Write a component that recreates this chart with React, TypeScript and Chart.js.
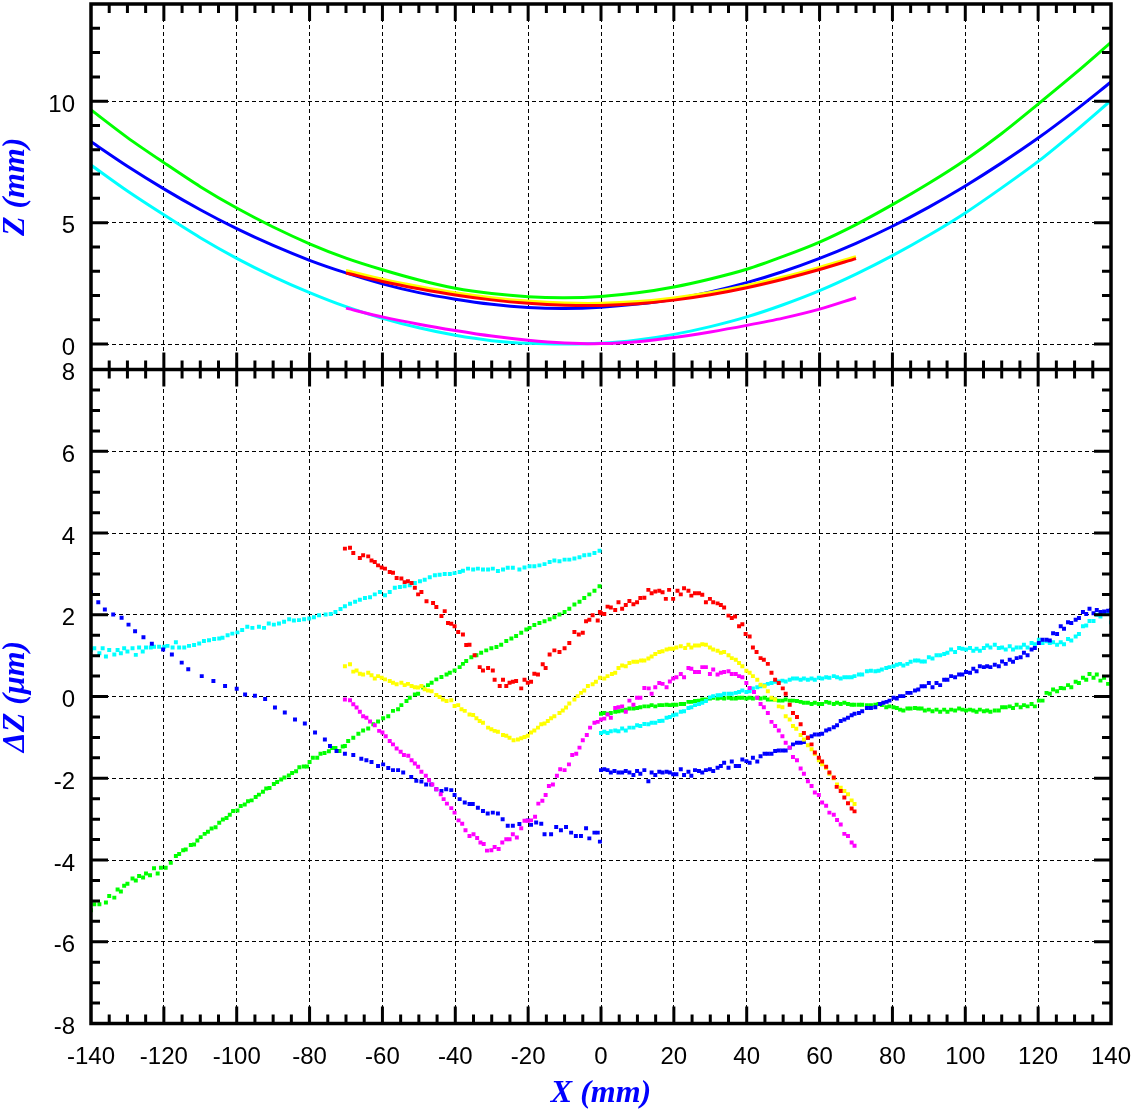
import React, { useEffect, useRef } from 'react';
import { Chart, registerables } from 'chart.js';

Chart.register(...registerables);

// ---------- Top panel: Z (mm) profiles ----------
const topX = [-140, -130, -120, -110, -100, -90, -80, -70, -60, -50, -40, -30, -20, -10, 0, 10, 20, 30, 40, 50, 60, 70, 80, 90, 100, 110, 120, 130, 140];
const greenTop = [9.64, 8.5, 7.47, 6.48, 5.6, 4.82, 4.13, 3.54, 3.06, 2.64, 2.3, 2.08, 1.95, 1.91, 1.96, 2.11, 2.35, 2.68, 3.08, 3.61, 4.2, 4.92, 5.74, 6.62, 7.58, 8.67, 9.88, 11.12, 12.42];
const blueTop = [8.33, 7.32, 6.39, 5.53, 4.75, 4.06, 3.45, 2.93, 2.48, 2.12, 1.85, 1.64, 1.51, 1.47, 1.52, 1.65, 1.85, 2.15, 2.53, 2.99, 3.53, 4.15, 4.85, 5.64, 6.51, 7.46, 8.48, 9.6, 10.79];
const cyanTop = [7.37, 6.3, 5.32, 4.38, 3.53, 2.78, 2.12, 1.54, 1.06, 0.67, 0.36, 0.14, 0.03, 0.0, 0.03, 0.17, 0.4, 0.72, 1.12, 1.62, 2.2, 2.88, 3.64, 4.48, 5.4, 6.43, 7.52, 8.74, 10.03];
const midX = [-70, -60, -50, -40, -30, -20, -10, 0, 10, 20, 30, 40, 50, 60, 70];
const redTop = [2.93, 2.58, 2.28, 2.02, 1.82, 1.68, 1.6, 1.59, 1.66, 1.81, 2.03, 2.32, 2.67, 3.07, 3.52];
const yellowTop = [3.03, 2.67, 2.37, 2.11, 1.91, 1.77, 1.69, 1.68, 1.75, 1.9, 2.12, 2.41, 2.76, 3.16, 3.6];
const magentaTop = [1.48, 1.12, 0.82, 0.56, 0.33, 0.16, 0.05, 0.02, 0.1, 0.27, 0.5, 0.77, 1.07, 1.44, 1.91];

// ---------- Bottom panel: ΔZ (µm) residuals, [X, ΔZ] ----------
const blueLeft = [[-140, 2.55], [-138, 2.31], [-136.2, 2.13], [-133.9, 2.01], [-131.6, 1.93], [-129.7, 1.76], [-127.9, 1.6], [-125.6, 1.45], [-123.3, 1.29], [-120.2, 1.15], [-117.8, 1.03], [-115.1, 0.83], [-113.3, 0.67], [-109.6, 0.5], [-106.4, 0.38], [-103.2, 0.26], [-100, 0.19], [-97.7, 0.05], [-95, 0.02], [-92.2, -0.06], [-89.5, -0.27], [-86.8, -0.39], [-84, -0.56], [-81.3, -0.66], [-78.5, -0.88], [-75.8, -1.05], [-74.4, -1.21], [-72.6, -1.33], [-70.3, -1.4], [-68, -1.43], [-65.8, -1.52], [-64.4, -1.56], [-63, -1.6], [-61.2, -1.7], [-59.8, -1.66], [-58.4, -1.75], [-57.1, -1.8], [-55.7, -1.8], [-54.3, -1.86], [-52.1, -1.97], [-50.7, -2.06], [-49.3, -2.08], [-48, -2.15], [-46.6, -2.15], [-45.2, -2.27], [-43.8, -2.31], [-42.5, -2.27], [-41.1, -2.29], [-40.2, -2.41], [-38.8, -2.51], [-37.4, -2.59], [-36.1, -2.63], [-35.2, -2.63], [-33.8, -2.72], [-32.4, -2.8], [-31.1, -2.86], [-29.7, -2.84], [-28.3, -2.86], [-27, -3.0], [-25.6, -3.16], [-24.2, -3.16], [-22.4, -3.12], [-20.1, -3.03], [-19.2, -3.14], [-17.8, -3.08], [-16.4, -3.11], [-15.5, -3.37], [-13.7, -3.37], [-12.3, -3.19], [-11, -3.27], [-9.6, -3.19], [-8.2, -3.33], [-6.9, -3.41], [-5.5, -3.41], [-4.1, -3.22], [-3.2, -3.47], [-1.8, -3.33], [-0.9, -3.33], [-0.3, -3.55]];

const cyanLeft = [[-140, 1.14], [-139.1, 1.18], [-137.7, 1.06], [-136.8, 1.18], [-135.9, 0.98], [-135, 1.14], [-133.6, 1.03], [-132.7, 1.14], [-131.8, 1.06], [-130.9, 1.18], [-130, 1.1], [-128.6, 1.18], [-127.7, 1.02], [-126.8, 1.2], [-125.8, 1.1], [-124.9, 1.2], [-123.6, 1.2], [-122.7, 1.22], [-121.3, 1.22], [-119.9, 1.22], [-119, 1.24], [-117.6, 1.2], [-116.7, 1.33], [-115.8, 1.2], [-114.4, 1.2], [-113.1, 1.24], [-111.7, 1.26], [-110.3, 1.3], [-109, 1.36], [-107.6, 1.38], [-106.2, 1.41], [-104.8, 1.42], [-103.9, 1.44], [-102.5, 1.5], [-101.2, 1.54], [-99.8, 1.57], [-98.5, 1.63], [-97.1, 1.71], [-95.7, 1.68], [-93.9, 1.71], [-92.5, 1.68], [-91.2, 1.79], [-89.8, 1.76], [-88.4, 1.79], [-87, 1.83], [-85.6, 1.89], [-84.3, 1.86], [-82.9, 1.87], [-81.5, 1.89], [-80.1, 1.91], [-78.8, 1.94], [-77.4, 1.99], [-75.6, 2.01], [-74.2, 2.02], [-72.9, 2.07], [-71.5, 2.14], [-70.3, 2.21], [-68.9, 2.27], [-67.5, 2.32], [-66.2, 2.37], [-64.8, 2.41], [-63.4, 2.43], [-62.1, 2.5], [-60.7, 2.56], [-59.3, 2.48], [-58, 2.56], [-56.6, 2.66], [-55.2, 2.68], [-53.9, 2.7], [-52.5, 2.72], [-51.1, 2.78], [-49.7, 2.82], [-48.4, 2.86], [-47, 2.92], [-45.6, 2.97], [-44.3, 2.98], [-42.9, 3.0], [-41.5, 3.0], [-40.2, 3.02], [-38.8, 3.05], [-37.9, 3.08], [-36.5, 3.13], [-35.1, 3.11], [-33.8, 3.13], [-32.4, 3.11], [-31, 3.11], [-29.7, 3.13], [-28.3, 3.07], [-26.9, 3.11], [-25.6, 3.15], [-24.2, 3.15], [-22.4, 3.11], [-21, 3.16], [-19.6, 3.19], [-18.3, 3.19], [-16.9, 3.21], [-15.5, 3.24], [-14.1, 3.29], [-12.8, 3.33], [-11.4, 3.31], [-10, 3.35], [-8.7, 3.35], [-7.3, 3.38], [-5.9, 3.41], [-4.6, 3.46], [-3.2, 3.47], [-1.8, 3.51], [-0.4, 3.57]];

const greenLeft = [[-140, -5.23], [-139.1, -5.08], [-137.7, -5.08], [-135.9, -5.04], [-135, -4.88], [-133.6, -4.92], [-132.7, -4.72], [-131.8, -4.77], [-130.9, -4.63], [-130, -4.58], [-128.6, -4.45], [-127.7, -4.5], [-126.8, -4.39], [-125.7, -4.43], [-124.9, -4.33], [-123.8, -4.37], [-122.7, -4.2], [-121.7, -4.33], [-120.8, -4.19], [-119.5, -4.19], [-118.1, -4.07], [-116.7, -3.9], [-115.8, -3.85], [-114.7, -3.76], [-114, -3.74], [-112.6, -3.63], [-111.7, -3.62], [-110.8, -3.52], [-109.9, -3.44], [-108.8, -3.36], [-107.9, -3.31], [-106.9, -3.23], [-105.8, -3.2], [-104.8, -3.09], [-103.8, -3.01], [-102.8, -2.97], [-101.9, -2.89], [-101, -2.8], [-99.8, -2.79], [-98.9, -2.68], [-97.8, -2.64], [-96.9, -2.56], [-95.9, -2.54], [-94.8, -2.46], [-93.9, -2.4], [-92.8, -2.33], [-91.9, -2.25], [-91, -2.24], [-89.8, -2.14], [-88.9, -2.09], [-87.8, -2.03], [-86.9, -1.98], [-85.7, -1.93], [-84.8, -1.87], [-83.7, -1.83], [-82.8, -1.73], [-81.6, -1.71], [-80.7, -1.71], [-80, -1.6], [-79.1, -1.5], [-77.9, -1.5], [-77, -1.4], [-75.9, -1.38], [-74.7, -1.34], [-73.8, -1.26], [-72.9, -1.26], [-71.8, -1.33], [-70.9, -1.22], [-70.3, -1.21], [-69.4, -1.09], [-68, -1.01], [-66.6, -0.91], [-65.3, -0.83], [-63.9, -0.78], [-62.5, -0.68], [-61.2, -0.61], [-59.8, -0.53], [-58.4, -0.48], [-57.1, -0.35], [-55.7, -0.31], [-54.8, -0.21], [-53.4, -0.11], [-52.5, -0.03], [-51.1, 0.05], [-50.2, 0.07], [-48.8, 0.22], [-47.5, 0.28], [-46.5, 0.34], [-45.2, 0.42], [-43.8, 0.48], [-42.4, 0.54], [-41.5, 0.58], [-40.2, 0.64], [-38.8, 0.72], [-37.9, 0.8], [-37, 0.87], [-35.6, 0.96], [-34.2, 1.01], [-32.9, 1.07], [-31.5, 1.13], [-30.1, 1.18], [-28.7, 1.21], [-27.4, 1.27], [-26, 1.36], [-24.6, 1.42], [-23.3, 1.48], [-21.9, 1.56], [-20.5, 1.64], [-19.6, 1.68], [-18.3, 1.75], [-16.9, 1.8], [-15.5, 1.84], [-14.1, 1.89], [-12.8, 1.94], [-11.4, 2.01], [-10, 2.07], [-8.7, 2.15], [-7.3, 2.25], [-5.9, 2.32], [-4.6, 2.41], [-3.2, 2.5], [-1.8, 2.59], [-0.4, 2.7]];

const redMid = [[-70.3, 3.62], [-68.9, 3.64], [-68, 3.51], [-66.2, 3.39], [-65.3, 3.46], [-63.9, 3.43], [-63, 3.33], [-62.1, 3.29], [-61.2, 3.21], [-60.2, 3.16], [-59.3, 3.13], [-58, 3.05], [-57.1, 3.03], [-56.1, 2.9], [-54.8, 2.89], [-53.9, 2.8], [-53, 2.82], [-52, 2.78], [-51.1, 2.66], [-50.2, 2.5], [-49.3, 2.56], [-47.9, 2.33], [-46.1, 2.29], [-45.2, 2.19], [-43.8, 1.97], [-42.9, 2.09], [-42, 1.8], [-41.1, 1.78], [-40.2, 1.72], [-39.2, 1.58], [-37.9, 1.52], [-37, 1.26], [-36.1, 1.27], [-34.7, 1.01], [-33.3, 0.72], [-32.4, 0.64], [-31, 0.7], [-29.7, 0.64], [-29.2, 0.41], [-27.8, 0.26], [-26.9, 0.41], [-26, 0.26], [-25.1, 0.34], [-24.2, 0.36], [-23.3, 0.38], [-21.9, 0.2], [-21, 0.41], [-20.1, 0.34], [-19.2, 0.36], [-18.3, 0.56], [-17.3, 0.54], [-16, 0.79], [-15.2, 0.7], [-14.1, 1.03], [-12.8, 1.13], [-11.4, 1.09], [-10, 1.18], [-8.7, 1.31], [-7.3, 1.58], [-6.1, 1.52], [-5, 1.56], [-4.1, 1.84], [-3.2, 1.88], [-2.3, 1.99], [-0.9, 1.86], [-0.3, 2.07], [0, 2.04], [0.9, 2.02], [1.8, 2.2], [2.7, 2.18], [3.9, 2.12], [4.8, 2.31], [5.8, 2.15], [6.8, 2.24], [7.8, 2.34], [8.9, 2.26], [9.9, 2.31], [10.8, 2.41], [11.9, 2.42], [13, 2.61], [13.9, 2.53], [14.9, 2.57], [16, 2.59], [16.9, 2.55], [17.8, 2.39], [18.7, 2.61], [19.8, 2.39], [21, 2.59], [21.9, 2.5], [22.8, 2.65], [24, 2.59], [24.8, 2.47], [25.8, 2.53], [26.9, 2.53], [27.8, 2.49], [28.8, 2.31], [29.9, 2.39], [30.8, 2.31], [32, 2.28], [32.9, 2.24], [33.8, 2.18], [35, 1.98], [35.9, 1.92], [36.8, 1.96], [37.9, 1.72], [38.8, 1.77], [39.7, 1.53], [40.8, 1.47], [41.7, 1.2], [42.7, 1.09], [43.8, 0.94], [44.7, 0.9], [45.8, 0.8], [46.8, 0.58], [47.8, 0.41], [48.8, 0.33], [49.9, 0.2], [50.7, 0.07], [51.8, -0.2], [52.7, -0.4], [53.8, -0.5], [54.8, -0.68], [55.7, -0.89], [56.8, -1.01], [57.8, -1.17], [58.7, -1.37], [59.8, -1.5], [60.7, -1.59], [61.8, -1.72], [62.7, -1.86], [63.9, -1.98], [64.7, -2.21], [65.8, -2.31], [66.8, -2.47], [67.8, -2.61], [68.8, -2.74], [69.6, -2.81]];

const yellowMid = [[-70.3, 0.74], [-68.9, 0.79], [-68, 0.61], [-67.1, 0.64], [-66.2, 0.56], [-65.3, 0.54], [-63.9, 0.58], [-63, 0.52], [-62.1, 0.44], [-61.2, 0.5], [-60.2, 0.46], [-59.3, 0.42], [-58, 0.38], [-57.1, 0.34], [-56.1, 0.3], [-54.8, 0.34], [-53.9, 0.28], [-53, 0.31], [-52, 0.26], [-51.1, 0.23], [-50.2, 0.22], [-49.3, 0.26], [-48.4, 0.18], [-47.5, 0.15], [-46.5, 0.13], [-45.2, 0.04], [-44.3, -0.01], [-43.4, -0.07], [-42.4, -0.11], [-41.1, -0.09], [-40.2, -0.23], [-39.2, -0.21], [-38.3, -0.31], [-37.4, -0.35], [-36.1, -0.44], [-35.1, -0.45], [-34.2, -0.53], [-33.3, -0.6], [-32.4, -0.64], [-31, -0.76], [-30.1, -0.8], [-29.2, -0.84], [-28.3, -0.86], [-26.9, -0.94], [-26, -0.96], [-25.1, -1.01], [-24, -1.07], [-22.8, -1.05], [-21.9, -1.02], [-21, -0.99], [-20.1, -0.96], [-19.2, -0.88], [-18.3, -0.83], [-17.3, -0.76], [-16.4, -0.68], [-15.5, -0.66], [-14.6, -0.6], [-13.7, -0.53], [-12.8, -0.48], [-11.4, -0.4], [-10.5, -0.34], [-9.6, -0.27], [-8.7, -0.17], [-7.3, -0.07], [-6.4, 0.01], [-5.5, 0.09], [-4.6, 0.15], [-3.6, 0.26], [-2.3, 0.3], [-1.4, 0.36], [-0.3, 0.46], [0.9, 0.44], [1.8, 0.5], [3, 0.55], [3.9, 0.58], [4.8, 0.7], [5.8, 0.76], [6.8, 0.74], [7.8, 0.82], [8.9, 0.85], [9.9, 0.85], [11, 0.88], [11.9, 0.88], [13, 0.93], [13.9, 0.98], [14.9, 1.04], [16, 1.09], [16.9, 1.11], [18, 1.15], [18.9, 1.17], [19.8, 1.17], [20.7, 1.2], [21.9, 1.23], [23.1, 1.19], [24, 1.27], [24.8, 1.2], [25.8, 1.25], [26.9, 1.25], [27.8, 1.28], [28.8, 1.27], [29.9, 1.2], [30.8, 1.15], [32, 1.12], [32.9, 1.07], [33.8, 1.09], [35, 1.01], [35.9, 0.94], [37, 0.9], [37.9, 0.82], [38.8, 0.74], [39.9, 0.63], [40.8, 0.58], [41.7, 0.5], [42.9, 0.41], [43.8, 0.29], [44.9, 0.25], [45.8, 0.13], [46.8, -0.03], [47.8, -0.07], [48.8, -0.24], [49.8, -0.26], [50.7, -0.48], [51.8, -0.56], [52.7, -0.72], [53.6, -0.79], [54.8, -0.94], [55.7, -1.05], [56.8, -1.19], [57.8, -1.29], [58.7, -1.4], [59.8, -1.56], [60.7, -1.66], [61.8, -1.74], [62.7, -1.89], [63.9, -2.0], [64.8, -2.15], [65.8, -2.23], [66.8, -2.31], [67.8, -2.39], [68.8, -2.54], [69.6, -2.63]];

const magentaMid = [[-70.3, -0.07], [-68.9, -0.09], [-68, -0.19], [-67.1, -0.27], [-66.2, -0.37], [-65.3, -0.48], [-64.4, -0.52], [-63.4, -0.61], [-62.1, -0.7], [-60.9, -0.84], [-60, -0.88], [-59.1, -0.97], [-58, -1.09], [-57.1, -1.17], [-56.1, -1.27], [-55, -1.35], [-54.1, -1.43], [-52.9, -1.45], [-52, -1.56], [-51.1, -1.64], [-50.2, -1.72], [-49.3, -1.84], [-48.1, -1.94], [-47.2, -2.05], [-46.3, -2.15], [-45.2, -2.27], [-44, -2.39], [-43.2, -2.51], [-42.3, -2.62], [-41.1, -2.73], [-40.2, -2.84], [-39.1, -3.03], [-38.1, -3.11], [-37.2, -3.27], [-36.1, -3.41], [-35, -3.37], [-34, -3.46], [-33.1, -3.57], [-32.2, -3.61], [-31.3, -3.77], [-30.1, -3.76], [-29.2, -3.68], [-28.1, -3.73], [-27.1, -3.57], [-26, -3.49], [-25.1, -3.49], [-24.2, -3.37], [-23.1, -3.45], [-21.9, -3.22], [-21, -3.04], [-20.1, -3.04], [-19.2, -3.03], [-18.1, -2.94], [-17.2, -2.62], [-16.1, -2.55], [-15.2, -2.41], [-14.3, -2.19], [-13.2, -2.15], [-12.1, -1.94], [-11.2, -1.78], [-10, -1.8], [-8.8, -1.66], [-7.9, -1.43], [-6.8, -1.4], [-5.9, -1.25], [-5, -1.07], [-3.9, -0.94], [-3, -0.76], [-1.8, -0.64], [-0.9, -0.62], [0, -0.56], [0.9, -0.54], [1.8, -0.44], [2.7, -0.52], [3.9, -0.28], [4.8, -0.26], [5.8, -0.24], [6.8, -0.37], [7.8, -0.1], [8.9, -0.2], [9.9, -0.03], [10.8, -0.03], [11.9, 0.21], [13.1, 0.2], [13.9, 0.07], [14.9, 0.23], [16, 0.33], [16.9, 0.31], [18, 0.23], [18.9, 0.37], [19.8, 0.44], [20.7, 0.47], [21.9, 0.55], [22.8, 0.47], [24, 0.7], [24.8, 0.68], [25.8, 0.6], [26.9, 0.6], [27.8, 0.72], [28.8, 0.72], [29.9, 0.55], [30.8, 0.66], [32, 0.54], [32.9, 0.58], [33.8, 0.6], [35, 0.62], [35.9, 0.55], [37, 0.55], [37.9, 0.5], [38.8, 0.47], [39.9, 0.33], [40.8, 0.21], [42, 0.11], [42.9, -0.03], [43.8, -0.18], [44.7, -0.26], [45.8, -0.4], [46.8, -0.62], [47.8, -0.72], [48.8, -0.83], [49.8, -0.97], [50.7, -1.13], [51.8, -1.25], [52.7, -1.48], [53.8, -1.56], [54.8, -1.76], [55.7, -1.89], [56.8, -2.07], [57.8, -2.19], [58.7, -2.35], [59.8, -2.41], [60.7, -2.59], [61.8, -2.67], [62.7, -2.84], [63.9, -2.89], [64.8, -3.02], [65.8, -3.13], [66.8, -3.36], [67.8, -3.41], [68.8, -3.57], [69.6, -3.65]];

const blueRight = [[0, -1.8], [0.9, -1.78], [1.8, -1.8], [2.7, -1.86], [3.7, -1.82], [4.8, -1.86], [5.8, -1.86], [6.8, -1.82], [7.8, -1.86], [8.9, -1.92], [9.9, -1.82], [10.8, -1.89], [11.9, -1.8], [13, -2.07], [13.9, -1.86], [14.9, -1.92], [16, -1.84], [16.9, -1.86], [18, -1.84], [18.9, -1.86], [19.8, -1.9], [20.7, -1.9], [21.9, -1.78], [22.8, -1.92], [24, -1.84], [24.8, -1.94], [25.8, -1.8], [26.9, -1.82], [27.8, -1.86], [28.8, -1.8], [29.9, -1.78], [30.8, -1.82], [32, -1.74], [32.9, -1.7], [33.8, -1.62], [35, -1.74], [35.9, -1.59], [37, -1.7], [37.9, -1.7], [38.8, -1.54], [39.9, -1.58], [40.8, -1.62], [41.7, -1.5], [42.9, -1.59], [43.8, -1.46], [44.9, -1.4], [45.8, -1.4], [46.8, -1.4], [47.8, -1.33], [48.8, -1.32], [49.8, -1.32], [50.7, -1.32], [51.8, -1.25], [52.7, -1.17], [53.8, -1.13], [54.8, -1.13], [55.7, -1.11], [56.8, -1.01], [57.8, -0.97], [58.7, -0.93], [59.8, -0.93], [60.7, -0.91], [61.8, -0.83], [62.7, -0.8], [63.9, -0.75], [64.8, -0.7], [65.8, -0.6], [66.8, -0.56], [67.8, -0.52], [68.8, -0.46], [69.6, -0.42], [70.8, -0.4], [71.7, -0.36], [73, -0.28], [74.1, -0.28], [75.3, -0.26], [76.6, -0.18], [77.5, -0.15], [78.4, -0.13], [79.2, -0.1], [80.3, -0.03], [81.2, -0.05], [82.1, 0.01], [83, 0.01], [84.1, 0.09], [85, 0.09], [86.2, 0.15], [87.1, 0.17], [88, 0.25], [88.9, 0.25], [90, 0.33], [91, 0.23], [92.1, 0.33], [93.1, 0.28], [94.2, 0.41], [95.1, 0.41], [96.1, 0.5], [97.2, 0.47], [98.3, 0.54], [99.2, 0.54], [100.2, 0.6], [101.3, 0.58], [102.2, 0.68], [103.1, 0.62], [104, 0.74], [105.1, 0.72], [106, 0.74], [106.9, 0.72], [108.1, 0.78], [109.2, 0.74], [110.1, 0.86], [111.1, 0.8], [112.2, 0.9], [113.1, 0.85], [114.1, 0.94], [115.2, 0.96], [116.1, 1.07], [117.1, 1.01], [118.2, 1.15], [119.1, 1.19], [120.2, 1.31], [121.2, 1.39], [122.3, 1.39], [123.2, 1.37], [124.1, 1.55], [125.2, 1.53], [126.2, 1.72], [127.1, 1.66], [128.2, 1.82], [129.1, 1.8], [130.3, 1.88], [131.2, 1.92], [132.3, 2.07], [133.2, 2.02], [134.1, 2.15], [135.2, 2.04], [136.1, 2.12], [137.1, 2.07], [138.1, 2.08], [139.2, 2.1], [140, 2.12]];

const cyanRight = [[0, -0.89], [0.9, -0.86], [1.8, -0.89], [2.7, -0.85], [3.9, -0.83], [4.8, -0.85], [5.8, -0.78], [6.8, -0.83], [7.8, -0.76], [8.9, -0.76], [9.9, -0.7], [10.8, -0.72], [11.9, -0.67], [13, -0.68], [13.9, -0.64], [14.9, -0.64], [16, -0.6], [16.9, -0.59], [18, -0.52], [18.9, -0.5], [19.8, -0.46], [20.7, -0.44], [21.9, -0.37], [22.8, -0.36], [24, -0.28], [24.8, -0.26], [25.8, -0.21], [26.9, -0.18], [27.8, -0.15], [28.8, -0.11], [29.9, -0.02], [30.8, 0.01], [32, 0.03], [32.9, 0.03], [33.8, 0.07], [35, 0.07], [35.9, 0.07], [37, 0.09], [37.9, 0.11], [38.8, 0.15], [39.9, 0.11], [40.8, 0.13], [41.7, 0.2], [42.9, 0.23], [43.8, 0.25], [44.9, 0.28], [45.8, 0.31], [46.8, 0.33], [47.8, 0.36], [48.8, 0.37], [49.8, 0.39], [50.7, 0.37], [51.8, 0.41], [52.7, 0.44], [53.8, 0.44], [54.8, 0.41], [55.7, 0.44], [56.8, 0.41], [57.8, 0.44], [58.7, 0.41], [59.8, 0.46], [60.7, 0.44], [61.8, 0.47], [62.7, 0.46], [63.9, 0.5], [64.8, 0.47], [65.8, 0.44], [66.8, 0.47], [67.8, 0.47], [68.8, 0.47], [69.6, 0.5], [70.8, 0.54], [71.7, 0.54], [73, 0.62], [74.1, 0.63], [75.3, 0.62], [76.2, 0.63], [77.1, 0.66], [78.3, 0.7], [79.2, 0.72], [80.3, 0.74], [81.2, 0.78], [82.1, 0.8], [83, 0.76], [84.1, 0.8], [85, 0.85], [86.2, 0.88], [87.1, 0.88], [88, 0.86], [88.9, 0.86], [90, 0.96], [91, 0.93], [92.1, 1.01], [93.1, 1.01], [94.2, 1.04], [95.1, 1.07], [96.1, 1.15], [97.2, 1.09], [98.3, 1.19], [99.2, 1.17], [100.2, 1.15], [101.3, 1.19], [102.2, 1.12], [103.1, 1.17], [104, 1.12], [105.1, 1.19], [106, 1.25], [106.9, 1.2], [108.1, 1.27], [109.2, 1.19], [110.1, 1.2], [111.1, 1.15], [112.2, 1.23], [113.1, 1.15], [114.1, 1.2], [115.2, 1.2], [116.1, 1.27], [117.1, 1.2], [118.2, 1.31], [119.1, 1.28], [120.2, 1.39], [121.2, 1.31], [122.3, 1.35], [123.2, 1.31], [124.1, 1.33], [125.2, 1.27], [126.2, 1.33], [127.1, 1.28], [128.2, 1.41], [129.1, 1.37], [130.3, 1.47], [131.2, 1.53], [132.3, 1.72], [133.2, 1.74], [134.1, 1.85], [135.2, 1.85], [136.1, 2.0], [137.1, 1.96], [138.1, 2.04], [139.2, 2.04], [140, 1.82]];

const greenRight = [[0, -0.42], [0.9, -0.4], [1.8, -0.42], [2.7, -0.4], [3.9, -0.37], [4.8, -0.36], [5.8, -0.34], [6.8, -0.32], [7.8, -0.29], [8.9, -0.29], [9.9, -0.28], [10.8, -0.26], [11.9, -0.24], [13, -0.24], [13.9, -0.21], [14.9, -0.24], [16, -0.21], [16.9, -0.21], [18, -0.2], [18.9, -0.21], [19.8, -0.2], [20.7, -0.2], [21.9, -0.18], [22.8, -0.18], [24, -0.13], [24.8, -0.13], [25.8, -0.11], [26.9, -0.1], [27.8, -0.07], [28.8, -0.07], [29.9, -0.05], [30.8, -0.03], [32, -0.05], [32.9, -0.03], [33.8, -0.05], [35, -0.03], [35.9, -0.05], [37, -0.05], [37.9, -0.03], [38.8, -0.03], [39.9, -0.05], [40.8, -0.03], [41.7, -0.05], [42.9, -0.03], [43.8, -0.05], [44.9, -0.03], [45.8, -0.07], [46.8, -0.07], [47.8, -0.07], [48.8, -0.1], [49.8, -0.1], [50.7, -0.07], [51.8, -0.1], [52.7, -0.1], [53.8, -0.11], [54.8, -0.13], [55.7, -0.15], [56.8, -0.15], [57.8, -0.18], [58.7, -0.15], [59.8, -0.18], [60.7, -0.18], [61.8, -0.13], [62.7, -0.15], [63.9, -0.18], [64.8, -0.15], [65.8, -0.18], [66.8, -0.15], [67.8, -0.18], [68.8, -0.2], [69.6, -0.2], [70.8, -0.2], [71.7, -0.2], [73, -0.21], [74.1, -0.21], [75.3, -0.2], [76.2, -0.18], [77.1, -0.21], [78.3, -0.26], [79.2, -0.24], [80.3, -0.26], [81.2, -0.28], [82.1, -0.32], [83, -0.34], [84.1, -0.29], [85, -0.29], [86.2, -0.28], [87.1, -0.29], [88, -0.29], [88.9, -0.34], [90, -0.32], [91, -0.36], [92.1, -0.32], [93.1, -0.37], [94.2, -0.32], [95.1, -0.37], [96.1, -0.32], [97.2, -0.34], [98.3, -0.29], [99.2, -0.32], [100.2, -0.34], [101.3, -0.32], [102.2, -0.34], [103.1, -0.37], [104, -0.32], [105.1, -0.36], [106, -0.34], [106.9, -0.37], [108.1, -0.34], [109.2, -0.34], [110.1, -0.26], [111.1, -0.26], [112.2, -0.24], [113.1, -0.28], [114.1, -0.2], [115.2, -0.26], [116.1, -0.21], [117.1, -0.24], [118.2, -0.18], [119.1, -0.24], [120.2, -0.1], [121.2, -0.1], [122.3, 0.09], [123.2, 0.07], [124.1, 0.17], [125.2, 0.13], [126.2, 0.21], [127.1, 0.2], [128.2, 0.28], [129.1, 0.23], [130.3, 0.36], [131.2, 0.33], [132.3, 0.46], [133.2, 0.41], [134.1, 0.55], [135.2, 0.46], [136.1, 0.54], [137.1, 0.39], [138.1, 0.46], [139.2, 0.31], [140, 0.41]];

// ---------- Axis ticks ----------
const zTicks = [0, 5, 10];
const dzTicks = [-8, -6, -4, -2, 0, 2, 4, 6, 8];
const xTicks = [-140, -120, -100, -80, -60, -40, -20, 0, 20, 40, 60, 80, 100, 120, 140];

const BLUE = '#0000ff';
const GREEN = '#00ff00';
const CYAN = '#00ffff';
const RED = '#ff0000';
const YELLOW = '#ffff00';
const MAGENTA = '#ff00ff';

const toXY = (xs: number[], ys: number[]) => xs.map((x, i) => ({ x, y: ys[i] }));
const pairs = (arr: number[][]) => arr.map(([x, y]) => ({ x, y }));

const curve = (label: string, data: any[], color: string) => ({
  label,
  data,
  yAxisID: 'yTop',
  showLine: true,
  borderColor: color,
  backgroundColor: color,
  borderWidth: 3,
  pointRadius: 0,
  tension: 0.3,
});

const dots = (label: string, data: any[], color: string) => ({
  label,
  data,
  yAxisID: 'yBot',
  showLine: false,
  pointStyle: 'rect',
  pointRadius: 2.8,
  pointBorderWidth: 0,
  pointBackgroundColor: color,
  borderColor: color,
  backgroundColor: color,
});

const framePlugin = {
  id: 'frameTicks',
  afterDraw(chart: any) {
    const { ctx, chartArea } = chart;
    const sx = chart.scales.x;
    const yt = chart.scales.yTop;
    const yb = chart.scales.yBot;
    const L = chartArea.left;
    const R = chartArea.right;
    const T = yt.top;
    const B = yb.bottom;
    const M = yt.bottom;
    ctx.save();
    ctx.strokeStyle = '#000';
    ctx.lineWidth = 3;
    ctx.beginPath();
    for (let v = -135; v <= 135; v += 5) {
      const px = sx.getPixelForValue(v);
      const len = v % 20 === 0 ? 17 : 9;
      ctx.moveTo(px, B);
      ctx.lineTo(px, B - len);
      ctx.moveTo(px, T);
      ctx.lineTo(px, T + len);
      ctx.moveTo(px, M - len);
      ctx.lineTo(px, M + len);
    }
    for (let v = 0; v <= 13; v += 1) {
      const py = yt.getPixelForValue(v);
      const len = v % 5 === 0 ? 17 : 9;
      ctx.moveTo(L, py);
      ctx.lineTo(L + len, py);
      ctx.moveTo(R, py);
      ctx.lineTo(R - len, py);
    }
    for (let v = -7.5; v <= 7.5; v += 0.5) {
      const py = yb.getPixelForValue(v);
      const len = Math.abs(v % 2) < 1e-6 ? 17 : 9;
      ctx.moveTo(L, py);
      ctx.lineTo(L + len, py);
      ctx.moveTo(R, py);
      ctx.lineTo(R - len, py);
    }
    ctx.stroke();
    ctx.lineWidth = 3.5;
    ctx.strokeRect(L, T, R - L, B - T);
    ctx.beginPath();
    ctx.moveTo(L, M);
    ctx.lineTo(R, M);
    ctx.stroke();
    ctx.restore();
  },
};

const gridOpts = { color: '#000', lineWidth: 1, drawTicks: false };
const borderOpts = { display: false, dash: [4, 3] };
const tickFont = { family: 'Liberation Sans', size: 24 };
const titleFont = { family: 'Liberation Serif', size: 32, style: 'italic' as const, weight: 'bold' as const, lineHeight: 1 };

export default function App() {
  const ref = useRef<HTMLCanvasElement | null>(null);

  useEffect(() => {
    document.body.style.margin = '0';
    const canvas = ref.current;
    if (!canvas) return;
    const chart = new Chart(canvas, {
      type: 'scatter',
      data: {
        datasets: [
          curve('magenta', toXY(midX, magentaTop), MAGENTA),
          curve('red', toXY(midX, redTop), RED),
          curve('yellow', toXY(midX, yellowTop), YELLOW),
          curve('green', toXY(topX, greenTop), GREEN),
          curve('blue', toXY(topX, blueTop), BLUE),
          curve('cyan', toXY(topX, cyanTop), CYAN),
          dots('red dz', pairs(redMid), RED),
          dots('yellow dz', pairs(yellowMid), YELLOW),
          dots('magenta dz', pairs(magentaMid), MAGENTA),
          dots('blue left dz', pairs(blueLeft), BLUE),
          dots('cyan left dz', pairs(cyanLeft), CYAN),
          dots('green left dz', pairs(greenLeft), GREEN),
          dots('blue right dz', pairs(blueRight), BLUE),
          dots('cyan right dz', pairs(cyanRight), CYAN),
          dots('green right dz', pairs(greenRight), GREEN),
        ] as any,
      },
      options: {
        animation: false,
        responsive: false,
        devicePixelRatio: 1,
        layout: { padding: { left: 0, right: 22, top: 1.5, bottom: 0 } },
        plugins: { legend: { display: false }, tooltip: { enabled: false } },
        scales: {
          x: {
            type: 'linear',
            position: 'bottom',
            min: -140,
            max: 140,
            afterBuildTicks: (s: any) => { s.ticks = xTicks.map((value) => ({ value })); },
            afterFit: (s: any) => { s.height = 86.5; s.paddingLeft = 0; s.paddingRight = 0; },
            ticks: { font: tickFont, color: '#000', padding: 19, autoSkip: false, maxRotation: 0 },
            grid: gridOpts,
            border: borderOpts,
            title: { display: true, text: 'X (mm)', color: BLUE, font: titleFont, padding: 0 },
          },
          yBot: {
            type: 'linear',
            position: 'left',
            stack: 'panels',
            stackWeight: 655.5,
            weight: 0,
            min: -8,
            max: 8,
            afterBuildTicks: (s: any) => { s.ticks = dzTicks.map((value) => ({ value })); },
            afterFit: (s: any) => { s.width = 91; s.paddingTop = 0; s.paddingBottom = 0; },
            ticks: { font: tickFont, color: '#000', padding: 16, labelOffset: 4 },
            grid: gridOpts,
            border: borderOpts,
            title: { display: true, text: 'ΔZ (μm)', color: BLUE, font: titleFont, padding: 0 },
          },
          yTop: {
            type: 'linear',
            position: 'left',
            stack: 'panels',
            stackWeight: 366.5,
            weight: 1,
            min: -1.05,
            max: 14,
            afterBuildTicks: (s: any) => { s.ticks = zTicks.map((value) => ({ value })); },
            afterFit: (s: any) => { s.width = 91; s.paddingTop = 0; s.paddingBottom = 0; },
            ticks: { font: tickFont, color: '#000', padding: 16, labelOffset: 4 },
            grid: gridOpts,
            border: borderOpts,
            title: { display: true, text: 'Z (mm)', color: BLUE, font: titleFont, padding: 0 },
          },
        } as any,
      },
      plugins: [framePlugin],
    });
    return () => chart.destroy();
  }, []);

  return (
    <div style={{ width: 1133, height: 1110 }}>
      <canvas ref={ref} width={1133} height={1110} style={{ display: 'block', width: 1133, height: 1110 }} />
    </div>
  );
}
